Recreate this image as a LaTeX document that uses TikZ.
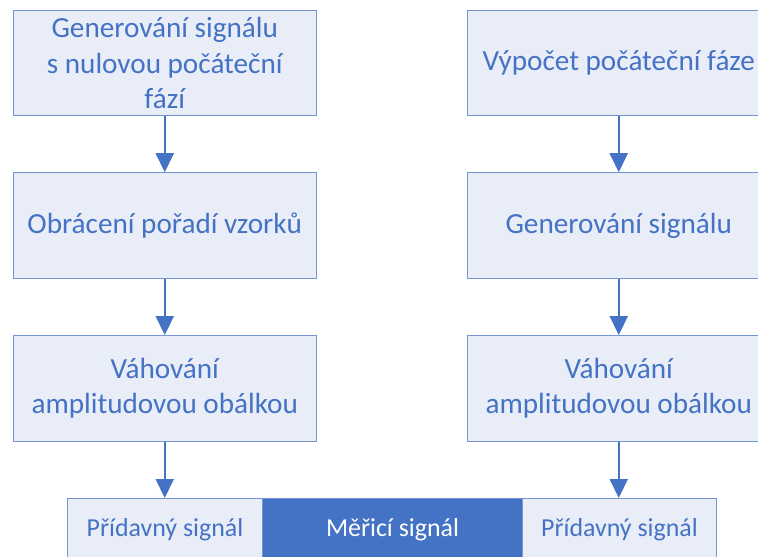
\documentclass[tikz,border=0pt]{standalone}
\usepackage{fontspec}
\setmainfont{Carlito}
\usetikzlibrary{arrows.meta}
\definecolor{accent}{HTML}{4472C4}
\definecolor{boxfill}{HTML}{E9EDF7}
\definecolor{boxline}{HTML}{7395D3}
\tikzset{
  x=1bp, y=-1bp,
  stepbox/.style={draw=boxline, line width=1bp, fill=boxfill, text=accent,
    minimum width=302.5bp, minimum height=105.5bp, inner sep=0pt,
    align=center, font=\fontsize{29.3}{35.2}\selectfont},
  barpart/.style={draw=boxline, line width=1bp, fill=boxfill, text=accent,
    minimum height=62bp, inner sep=0pt, anchor=north west,
    font=\fontsize{26}{30}\selectfont},
  flow/.style={draw=accent, line width=2bp,
    -{Triangle[length=19bp, width=18bp]}},
}
\begin{document}
\begin{tikzpicture}
\useasboundingbox (0,0) rectangle (758,557);
\clip (0,0) rectangle (758,557);

% left chain
\node[stepbox] (l1) at (164.75,63) {Generování signálu\\s nulovou počáteční\\fází};
\node[stepbox] (l2) at (164.75,225.5) {Obrácení pořadí vzorků};
\node[stepbox] (l3) at (164.75,388.3) {Váhování\\amplitudovou obálkou};

% right chain
\node[stepbox] (r1) at (618.75,63) {Výpočet počáteční fáze};
\node[stepbox] (r2) at (618.75,225.5) {Generování signálu};
\node[stepbox] (r3) at (618.75,388.3) {Váhování\\amplitudovou obálkou};

% combined output signal
\node[barpart, minimum width=195bp] (pl) at (67,498) {Přídavný signál};
\node[barpart, minimum width=260bp, fill=accent, text=white] (ms) at (262,498) {Měřicí signál};
\node[barpart, minimum width=194bp] (pr) at (522,498) {Přídavný signál};

\draw[flow] (l1) -- (l2);
\draw[flow] (l2) -- (l3);
\draw[flow] (l3.south) -- (l3.south |- pl.north);
\draw[flow] (r1) -- (r2);
\draw[flow] (r2) -- (r3);
\draw[flow] (r3.south) -- (r3.south |- pr.north);
\end{tikzpicture}
\end{document}
